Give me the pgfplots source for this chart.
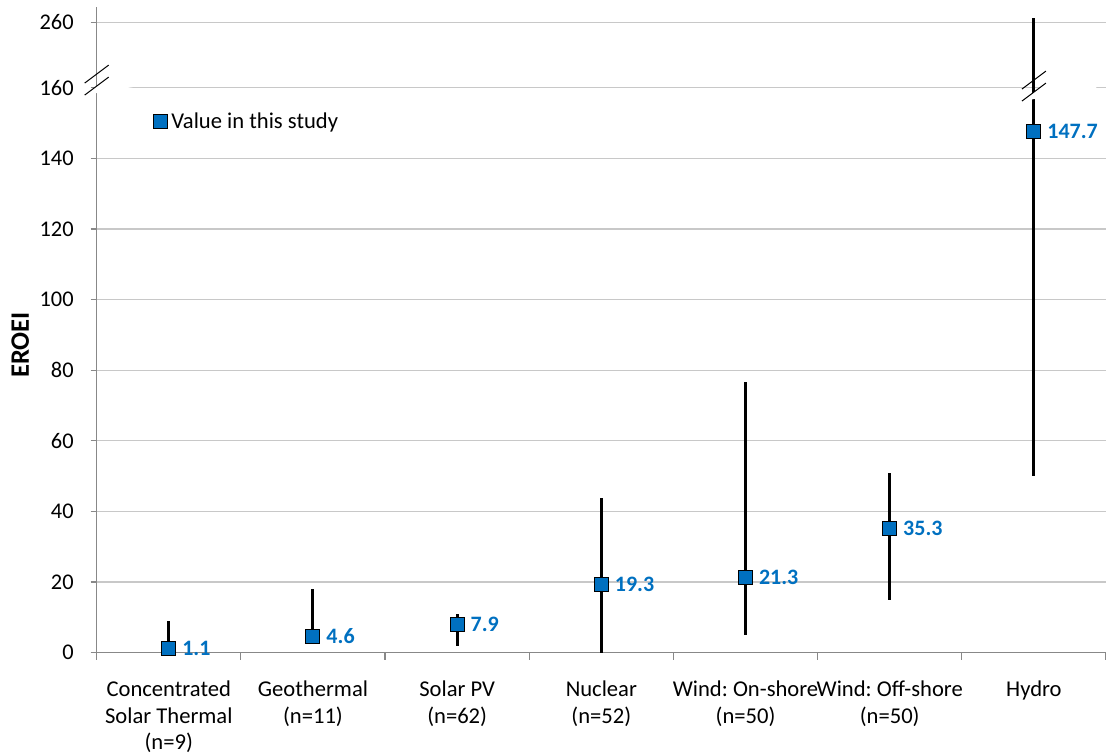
\documentclass[border=0pt]{standalone}
\usepackage{fontspec}
\setmainfont{Carlito}
\usepackage{pgfplots}
\pgfplotsset{compat=1.18}
\usepackage{pgfplotstable}
\definecolor{mblue}{HTML}{0070C0}
\definecolor{gridgray}{HTML}{C8C8C8}
\definecolor{axgray}{HTML}{888888}

% y values above 160 are on the compressed (broken) part of the axis:
% 178.6 on this scale is 260; Hydro's maximum 179.7 is about 266
\pgfplotstableread{
x y ymin ymax
0 1.1 0 8.9
1 4.6 3.0 18.0
2 7.9 1.9 11.0
3 19.3 0 43.8
4 21.3 4.9 76.8
5 35.3 14.9 51.0
6 147.7 50.1 179.7
}\datatable

\begin{document}
\frenchspacing
\begin{tikzpicture}
\begin{axis}[
  width=504.65pt, height=322.85pt, scale only axis,
  xmin=-0.5, xmax=6.5, ymin=0, ymax=182.9,
  clip=false,
  axis x line*=bottom, axis y line*=left,
  axis line style={axgray, line width=0.6pt},
  /pgf/number format/assume math mode=true,
  xtick={0,...,6},
  xticklabels={{Concentrated\\Solar Thermal\\(n=9)},{Geothermal\\(n=11)},{Solar PV\\(n=62)},{Nuclear\\(n=52)},{Wind: On-shore\\(n=50)},{Wind: Off-shore\\(n=50)},{Hydro}},
  xticklabel style={align=center, font=\fontsize{11.3}{13.2}\selectfont, inner sep=0pt, yshift=-11pt},
  minor xtick={-0.5,0.5,...,6.5},
  tick align=outside,
  major tick length=3pt, minor tick length=3.5pt,
  tick style={axgray, line width=0.6pt},
  major x tick style={draw=none},
  ytick={0,20,40,60,80,100,120,140,160,178.6},
  yticklabels={0,20,40,60,80,100,120,140,160,260},
  yticklabel style={font=\fontsize{11.2}{13}\selectfont, inner sep=0pt, xshift=-8.3pt},
  ymajorgrids, xmajorgrids=false,
  grid style={gridgray, line width=0.6pt},
  ylabel={EROEI},
  every axis y label/.style={at={(rel axis cs:0,0.4765)}, xshift=-38.2pt, rotate=90, anchor=center, font=\fontsize{13.3}{15}\selectfont\bfseries},
  legend style={draw=none, fill=none, at={(0.0558,0.822)}, anchor=west, inner sep=0pt, font=\fontsize{11.3}{13}\selectfont},
  legend cell align=left,
  legend image code/.code={\draw[#1] plot coordinates {(3.5pt,0pt)};},
]
\addplot[only marks, mark=none, forget plot,
  error bars/.cd, y dir=both, y explicit,
  error bar style={draw=black, line width=1.5pt}, error mark=none]
  table[x=x, y=y, y error plus expr=\thisrow{ymax}-\thisrow{y}, y error minus expr=\thisrow{y}-\thisrow{ymin}] {\datatable};
\addplot[only marks, mark=square*, mark size=3.5pt,
  mark options={fill=mblue, draw=black, line width=0.5pt},
  nodes near coords,
  every node near coord/.append style={anchor=west, xshift=6.5pt, inner sep=0pt, font=\fontsize{11}{13}\selectfont\bfseries, text=mblue}]
  table[x=x, y=y] {\datatable};
\addlegendentry{Value in this study}
% axis break marks
\fill[white] ([shift={(-6pt,-7.5pt)}]axis cs:-0.5,162.2) -- ++(12pt,9pt) -- ++(0,6pt) -- ++(-12pt,-9pt) -- cycle;
\draw[black, line width=0.5pt] ([shift={(-6pt,-7.5pt)}]axis cs:-0.5,162.2) -- ++(12pt,9pt);
\draw[black, line width=0.5pt] ([shift={(-6pt,-1.5pt)}]axis cs:-0.5,162.2) -- ++(12pt,9pt);
\fill[white] ([shift={(-6pt,-7.5pt)}]axis cs:6,160.5) -- ++(12pt,9pt) -- ++(0,6pt) -- ++(-12pt,-9pt) -- cycle;
\draw[black, line width=0.5pt] ([shift={(-6pt,-7.5pt)}]axis cs:6,160.5) -- ++(12pt,9pt);
\draw[black, line width=0.5pt] ([shift={(-6pt,-1.5pt)}]axis cs:6,160.5) -- ++(12pt,9pt);
\end{axis}
\pgfresetboundingbox
\path ([shift={(-48.35pt,-50.15pt)}]current axis.south west) rectangle ([shift={(0pt,3.5pt)}]current axis.north east);
\end{tikzpicture}
\end{document}
